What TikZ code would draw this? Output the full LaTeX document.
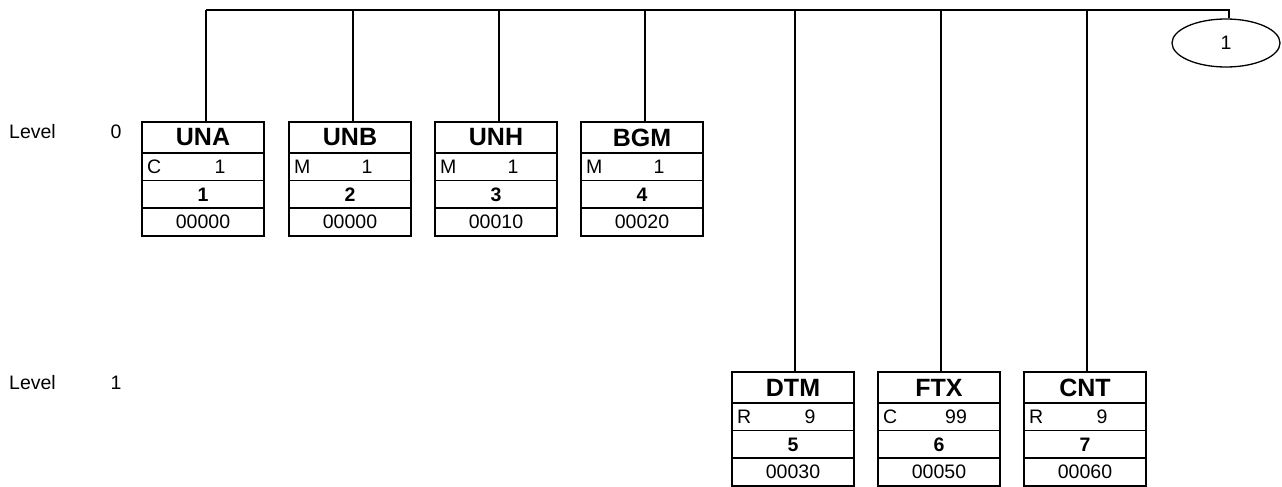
\documentclass[tikz,border=0pt]{standalone}
\usepackage{fontspec}
\setmainfont{Liberation Sans}
\usetikzlibrary{shapes.geometric}
\tikzset{
  frame/.style={draw, line width=2pt, inner sep=0pt, minimum width=122pt, minimum height=114pt, anchor=north west},
  sep/.style={line width=1.3pt},
  conn/.style={line width=2.6pt},
  hdr/.style={font=\fontsize{25}{25}\selectfont\bfseries, inner sep=0pt},
  txt/.style={font=\fontsize{19.5}{19.5}\selectfont, inner sep=0pt},
  bnum/.style={font=\fontsize{19.5}{19.5}\selectfont\bfseries, inner sep=0pt},
  oval/.style={ellipse, draw, line width=1.3pt, minimum width=108pt, minimum height=48pt, inner sep=0pt, font=\fontsize{19.5}{19.5}\selectfont},
}
% name, left x, top y, tag, status, rep, num, code
\newcommand{\segbox}[8]{%
  \node[frame] (#1) at (#2,#3) {};
  \draw[sep] ([yshift=-32pt]#1.north west) -- ([yshift=-32pt]#1.north east);
  \draw[sep] ([yshift=-59.5pt]#1.north west) -- ([yshift=-59.5pt]#1.north east);
  \draw[sep] ([yshift=-87pt]#1.north west) -- ([yshift=-87pt]#1.north east);
  \node[hdr] (#1-tag) at ([yshift=-16.5pt]#1.north) {#4};
  \node[txt, anchor=west] (#1-st) at ([xshift=6pt,yshift=-46pt]#1.north west) {#5};
  \node[txt] (#1-rep) at ([xshift=17pt,yshift=-46pt]#1.north) {#6};
  \node[bnum] (#1-num) at ([yshift=-73.5pt]#1.north) {#7};
  \node[txt] (#1-code) at ([yshift=-100.5pt]#1.north) {#8};
}
\begin{document}
\begin{tikzpicture}[x=1pt, y=-1pt]
  \useasboundingbox (0,0) rectangle (1282,487);

  % level labels
  \node[txt, anchor=west] (lv0) at (9,132) {Level};
  \node[txt] (lv0n) at (116,132) {0};
  \node[txt, anchor=west] (lv1) at (9,383) {Level};
  \node[txt] (lv1n) at (116,383) {1};

  % level 0 boxes
  \segbox{una}{141}{121}{UNA}{C}{1}{1}{00000}
  \segbox{unb}{288}{121}{UNB}{M}{1}{2}{00000}
  \segbox{unh}{434}{121}{UNH}{M}{1}{3}{00010}
  \segbox{bgm}{580}{121}{BGM}{M}{1}{4}{00020}

  % level 1 boxes
  \segbox{dtm}{731}{371}{DTM}{R}{9}{5}{00030}
  \segbox{ftx}{877}{371}{FTX}{C}{99}{6}{00050}
  \segbox{cnt}{1023}{371}{CNT}{R}{9}{7}{00060}

  % continuation oval
  \node[oval] (cont) at (1226,43) {1};

  % bus
  \coordinate (b0) at (206,10);
  \coordinate (bend) at (1229,10);
  \draw[conn] (b0) -- (bend) -- (bend |- cont.north);

  % drops
  \draw[conn] (b0) -- (b0 |- una.north);
  \coordinate (b1) at (353,10);
  \draw[conn] (b1) -- (b1 |- unb.north);
  \coordinate (b2) at (499,10);
  \draw[conn] (b2) -- (b2 |- unh.north);
  \coordinate (b3) at (645,10);
  \draw[conn] (b3) -- (b3 |- bgm.north);
  \coordinate (b4) at (795,10);
  \draw[conn] (b4) -- (b4 |- dtm.north);
  \coordinate (b5) at (941,10);
  \draw[conn] (b5) -- (b5 |- ftx.north);
  \coordinate (b6) at (1087,10);
  \draw[conn] (b6) -- (b6 |- cnt.north);
\end{tikzpicture}
\end{document}
